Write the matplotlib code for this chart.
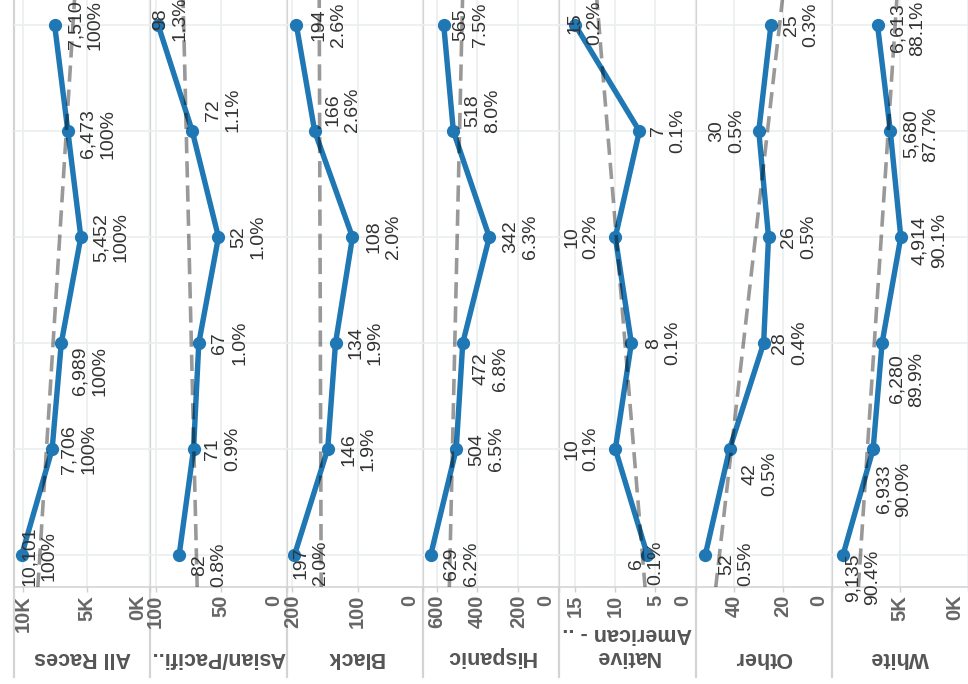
import numpy as np
import matplotlib.pyplot as plt
from matplotlib.lines import Line2D
from matplotlib import transforms

plt.rcParams['font.family'] = ['Liberation Sans', 'DejaVu Sans']

# six reporting periods, oldest at the bottom
periods = [1, 2, 3, 4, 5, 6]

groups = ["All Races", "Asian/Pacifi..", "Black", "Hispanic",
          "Native\nAmerican - ..", "Other", "White"]

all_races = [10101, 7706, 6989, 5452, 6473, 7510]
asian_pacific = [82, 71, 67, 52, 72, 98]
black = [197, 146, 134, 108, 166, 194]
hispanic = [629, 504, 472, 342, 518, 565]
native_american = [6, 10, 8, 10, 7, 15]
other = [52, 42, 28, 26, 30, 25]
white = [9135, 6933, 6280, 4914, 5680, 6613]

pct_all_races = [100, 100, 100, 100, 100, 100]
pct_asian_pacific = [0.8, 0.9, 1.0, 1.0, 1.1, 1.3]
pct_black = [2.0, 1.9, 1.9, 2.0, 2.6, 2.6]
pct_hispanic = [6.2, 6.5, 6.8, 6.3, 8.0, 7.5]
pct_native_american = [0.1, 0.1, 0.1, 0.2, 0.1, 0.2]
pct_other = [0.5, 0.5, 0.4, 0.5, 0.5, 0.3]
pct_white = [90.4, 90.0, 89.9, 90.1, 87.7, 88.1]

values = [all_races, asian_pacific, black, hispanic, native_american, other, white]
pcts = [pct_all_races, pct_asian_pacific, pct_black, pct_hispanic,
        pct_native_american, pct_other, pct_white]

# axis max and ticks for each pane (value axis runs right-to-left)
scales = [
    (10700, [10000, 5000, 0], ["10K", "5K", "0K"]),
    (104, [100, 50, 0], ["100", "50", "0"]),
    (209, [200, 100, 0], ["200", "100", "0"]),
    (667, [600, 400, 200, 0], ["600", "400", "200", "0"]),
    (17, [15, 10, 5, 0], ["15", "10", "5", "0"]),
    (56, [40, 20, 0], ["40", "20", "0"]),
    (9950, [5000, 0], ["5K", "0K"]),
]

# label offsets in pixels (right, down) from each mark
label_offsets = [
    [(18, 1), (27, 0), (29, 28), (30, 0), (30, 3), (31, 0)],
    [(30, 10), (29, 0), (31, 0), (30, 0), (31, -21), (12, -6)],
    [(16, 8), (31, 0), (30, 0), (31, 0), (28, -21), (32, 0)],
    [(31, 9), (30, 0), (28, 26), (31, 0), (29, -20), (27, 0)],
    [(-1, 8), (-34, 0), (32, 0), (-34, 0), (29, 0), (10, -2)],
    [(31, 9), (30, 25), (26, 0), (30, 0), (-32, 0), (30, 0)],
    [(20, 22), (21, 40), (25, 36), (29, 3), (31, 3), (30, 3)],
]

W, H = 968, 684
fig = plt.figure(figsize=(W / 100, H / 100), dpi=100)
left0, pane_w = 14, 136.3
plot_bottom = 587
sep_color = '#d4d4d4'
blue = '#1f77b4'


def pct_text(p):
    return "100%" if p >= 100 else f"{p:.1f}%"


for k, name in enumerate(groups):
    vals, pc = values[k], pcts[k]
    vmax, ticks, ticklabels = scales[k]
    x0 = left0 + k * pane_w
    ax = fig.add_axes([x0 / W, (H - plot_bottom) / H, pane_w / W, plot_bottom / H])
    ax.set_facecolor('none')
    ax.set_xlim(vmax, 0)
    ax.set_ylim(periods[0] - 0.3, periods[-1] + 0.236)
    ax.set_yticks(periods)
    ax.tick_params(axis='y', length=0, labelleft=False)
    ax.set_xticks(ticks)
    ax.set_xticklabels(ticklabels, rotation=90, fontweight='bold',
                       color='#666666', fontsize=14.5, va='top')
    ax.tick_params(axis='x', length=3.6, width=1, color='#cfcfcf', pad=2)
    ax.grid(True, color='#ebefef', lw=1.2)
    ax.set_axisbelow(True)
    for s in ['top', 'right', 'left']:
        ax.spines[s].set_visible(False)
    ax.spines['bottom'].set_color(sep_color)
    ax.spines['bottom'].set_linewidth(1.2)

    # keep the zero label inside the pane
    shift = transforms.ScaledTranslation(-13 / 100, 0, fig.dpi_scale_trans)
    for lab in ax.get_xticklabels():
        if lab.get_text() in ("0", "0K"):
            lab.set_transform(lab.get_transform() + shift)

    ax.plot(vals, periods, color=blue, lw=3.9, marker='o', ms=8.5, zorder=3)

    coef = np.polyfit(periods, vals, 1)
    t = np.array([periods[0] - 1, periods[-1] + 1])
    ax.plot(np.polyval(coef, t), t, color='black', alpha=0.4, lw=2.6,
            dashes=(4.5, 2.2), zorder=4)

    for v, p, per, (dx, dy) in zip(vals, pc, periods, label_offsets[k]):
        ax.annotate(f"{v:,}\n{pct_text(p)}", xy=(v, per),
                    xytext=(dx * 0.72, -dy * 0.72), textcoords='offset points',
                    rotation=90, ha='center', va='center', multialignment='center',
                    fontsize=14, color='#333333', annotation_clip=False, zorder=5)

    n_lines = name.count("\n") + 1
    fig.text((x0 + pane_w / 2) / W, (H - 657 + 12 * (n_lines - 1)) / H, name,
             rotation=180, ha='center', va='center', fontsize=15.5,
             fontweight='bold', color='#555555', linespacing=1.1)

    fig.add_artist(Line2D([x0 / W, x0 / W], [(H - 677) / H, 1],
                          transform=fig.transFigure, color=sep_color, lw=1.6,
                          zorder=-1))

fig.savefig("out.png", dpi=100, facecolor='white')
